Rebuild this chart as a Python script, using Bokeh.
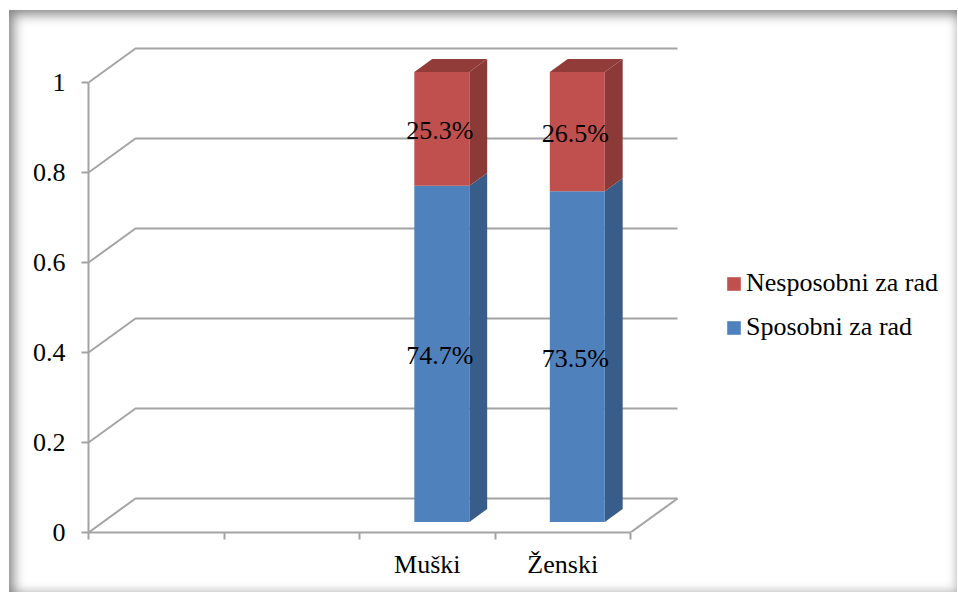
from bokeh.plotting import figure
from bokeh.models import Range1d, FixedTicker, Legend, LegendItem, LinearAxis
from bokeh.core.properties import value
from bokeh.embed import file_html
from bokeh.resources import INLINE

# ---- data ----
categories = ["Muški", "Ženski"]
sposobni = [0.747, 0.735]
nesposobni = [0.253, 0.265]
series_names = ["Sposobni za rad", "Nesposobni za rad"]
y_ticks = [0, 0.2, 0.4, 0.6, 0.8, 1]
y_tick_labels = ["0", "0.2", "0.4", "0.6", "0.8", "1"]
n_slots = 4          # category slots on the axis
first_slot = 2       # data occupies the last two slots

# ---- layout / style ----
W, H = 948, 582
LEFT, BOTTOM = 79, 60
PX_X = 135.5   # px per category slot
PX_Y = 450.0   # px per value unit
frame_w = W - LEFT
frame_h = H - BOTTOM
DX = 47 / PX_X   # depth vector (data units)
DY = 34 / PX_Y
D0, D1 = 0.31, 0.69
BW = 0.406
GRID = "#a3a3a3"
FONT = "Liberation Serif"
FS = "26px"
front_col = ["#4F81BD", "#C0504D"]
side_col = ["#385D8A", "#8C3A37"]
top_col = ["#3F6899", "#923C39"]

p = figure(width=W, height=H, output_backend="svg", toolbar_location=None,
           x_range=Range1d(0, frame_w / PX_X), y_range=Range1d(0, frame_h / PX_Y),
           min_border_left=LEFT, min_border_bottom=BOTTOM, min_border_top=0,
           min_border_right=0, x_axis_type=None, y_axis_type=None)
p.outline_line_color = None
p.background_fill_color = None
p.border_fill_color = None
p.styles = {"margin-left": "9px", "margin-top": "10px",
            "box-shadow": "inset 5px 5px 12px rgba(0,0,0,0.45), inset -3px -3px 8px rgba(0,0,0,0.12)"}

# ---- back walls / floor ----
xs, ys = [], []
for v in y_ticks:
    xs.append([0, DX, n_slots + DX])
    ys.append([v, v + DY, v + DY])
xs.append([n_slots, n_slots + DX])
ys.append([0, DY])
p.multi_line(xs, ys, line_color=GRID, line_width=2)

# ---- axes ----
yax = LinearAxis(ticker=FixedTicker(ticks=y_ticks, minor_ticks=[]),
                 major_label_overrides={t: l for t, l in zip(y_ticks, y_tick_labels)},
                 bounds=(0, 1))
yax.axis_line_color = GRID
yax.axis_line_width = 2
yax.major_tick_line_color = GRID
yax.major_tick_line_width = 2
yax.major_tick_out = 7
yax.major_tick_in = 0
yax.major_label_text_font = FONT
yax.major_label_text_font_size = FS
yax.major_label_text_color = "black"
yax.major_label_standoff = 16
p.add_layout(yax, "left")

centers = [first_slot + i + 0.5 for i in range(len(categories))]
xax = LinearAxis(ticker=FixedTicker(ticks=centers, minor_ticks=list(range(n_slots + 1))),
                 major_label_overrides={c: n for c, n in zip(centers, categories)},
                 bounds=(0, n_slots))
xax.axis_line_color = GRID
xax.axis_line_width = 2
xax.major_tick_out = 0
xax.major_tick_in = 0
xax.minor_tick_out = 7
xax.minor_tick_in = 0
xax.minor_tick_line_color = GRID
xax.minor_tick_line_width = 2
xax.major_label_text_font = FONT
xax.major_label_text_font_size = FS
xax.major_label_text_color = "black"
xax.major_label_standoff = 10
p.add_layout(xax, "below")

# ---- bars ----
series = [sposobni, nesposobni]
front_renderers = []
for s, vals in enumerate(series):
    fx0, fx1, fy0, fy1 = [], [], [], []
    sx, sy, tx, ty = [], [], [], []
    lx, ly, lt = [], [], []
    for i, c in enumerate(centers):
        b = sum(series[k][i] for k in range(s))
        t = b + vals[i]
        xl, xr = c - BW / 2, c + BW / 2
        fx0.append(xl + D0 * DX); fx1.append(xr + D0 * DX)
        fy0.append(b + D0 * DY); fy1.append(t + D0 * DY)
        sx.append([xr + D0 * DX, xr + D1 * DX, xr + D1 * DX, xr + D0 * DX])
        sy.append([b + D0 * DY, b + D1 * DY, t + D1 * DY, t + D0 * DY])
        if s == len(series) - 1:
            tx.append([xl + D0 * DX, xr + D0 * DX, xr + D1 * DX, xl + D1 * DX])
            ty.append([t + D0 * DY, t + D0 * DY, t + D1 * DY, t + D0 * DY + (D1 - D0) * DY])
        lx.append(c + D0 * DX - 0.015)
        ly.append((b + t) / 2 + D0 * DY - 0.004)
        lt.append(f"{vals[i] * 100:.1f}%")
    p.patches(sx, sy, fill_color=side_col[s], line_color=None)
    if tx:
        p.patches(tx, ty, fill_color=top_col[s], line_color=None)
    r = p.quad(left=fx0, right=fx1, bottom=fy0, top=fy1, fill_color=front_col[s], line_color=None)
    front_renderers.append(r)
    p.text(lx, ly, text=lt, text_align="center", text_baseline="middle",
           text_font=value(FONT), text_font_size=value(FS), text_color="black")

legend = Legend(items=[LegendItem(label=series_names[1], renderers=[front_renderers[1]]),
                       LegendItem(label=series_names[0], renderers=[front_renderers[0]])],
                location=(637, 190), padding=0, margin=0, spacing=14,
                glyph_width=17, glyph_height=17, label_standoff=4,
                label_text_font=FONT, label_text_font_size=FS, label_text_color="black",
                border_line_color=None, background_fill_alpha=0)
p.add_layout(legend)

open("out.html", "w").write(file_html(p, INLINE))
